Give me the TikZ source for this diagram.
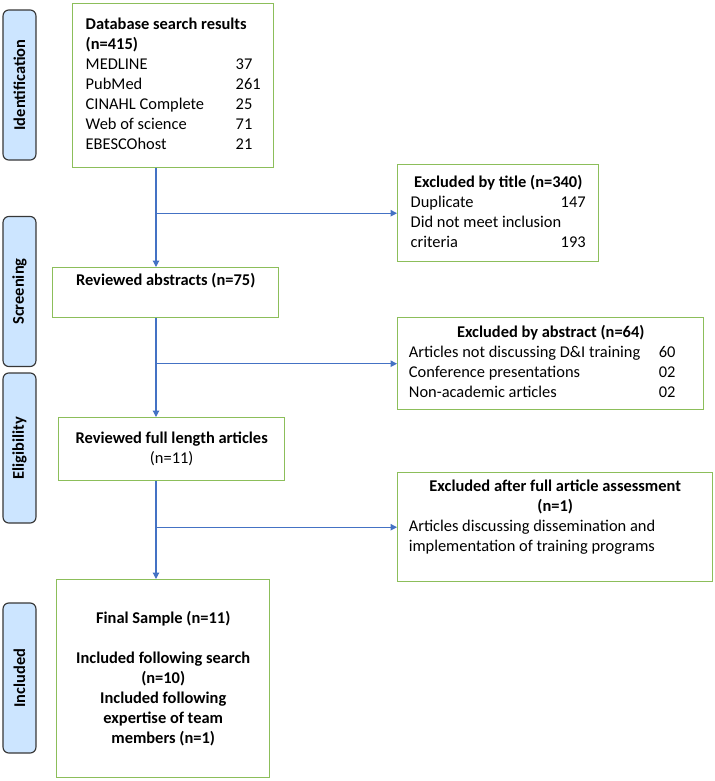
\documentclass[tikz,border=0pt]{standalone}
\usepackage{fontspec}
\setmainfont{Carlito}
\usepackage{array}
\usetikzlibrary{arrows.meta}
\usetikzlibrary{positioning}
\definecolor{boxgreen}{RGB}{140,190,90}
\definecolor{flowblue}{RGB}{68,114,196}
\definecolor{phasefill}{RGB}{204,229,255}
\definecolor{phaseline}{RGB}{55,55,55}
\newcommand{\flowfont}{\fontsize{11.5}{14}\selectfont}
\tikzset{
  stagebox/.style={draw=boxgreen, line width=1pt, inner sep=0pt, anchor=north west, align=center},
  phase/.style={draw=phaseline, fill=phasefill, line width=0.8pt, rounded corners=4pt,
    rotate=90, minimum width=105pt, minimum height=23pt, font=\flowfont\bfseries},
  flow/.style={draw=flowblue, line width=0.8pt, -{Triangle[length=4.5pt,width=4.5pt]}}
}

\begin{document}
\begin{tikzpicture}[x=0.7pt, y=-0.7pt, font=\flowfont]
      \useasboundingbox (0,0) rectangle (715,781);
      \node[phase] (ident) at (19.5,85) {Identification};
      \node[phase] (screen) at (19.5,291.5) {Screening};
      \node[phase] (elig) at (19.5,448) {Eligibility};
      \node[phase] (incl) at (19.5,678) {Included};
      \node[stagebox, minimum width=140.7pt, minimum height=114.8pt] (search) at (72,3)
        {\begin{tabular}{@{}p{105pt}@{}l@{}}
          \multicolumn{2}{@{}l@{}}{\bfseries Database search results}\\
          \multicolumn{2}{@{}l@{}}{\bfseries (n=415)}\\
          MEDLINE & 37\\
          PubMed & 261\\
          CINAHL Complete & 25\\
          Web of science & 71\\
          EBESCOhost & 21
        \end{tabular}};
      \node[stagebox, minimum width=140.7pt, minimum height=67.9pt] (bytitle) at (397,164)
        {\begin{tabular*}{122.5pt}{@{}l@{\extracolsep{\fill}}r@{}}
          \multicolumn{2}{@{}c@{}}{\bfseries Excluded by title (n=340)}\\
          Duplicate & 147\\
          \multicolumn{2}{@{}l@{}}{Did not meet inclusion}\\
          criteria & 193
        \end{tabular*}};
      \node[stagebox, minimum width=158.2pt, minimum height=35pt] (abstracts) at (52,267)
        {\textbf{Reviewed abstracts (n=75)}\\ \strut};
      \node[stagebox, minimum width=214.2pt, minimum height=64.4pt] (byabstract) at (397,317)
        {\begin{tabular}{@{}p{175pt}@{}l@{\hspace{11.9pt}}}
          \multicolumn{2}{@{}c@{}}{\bfseries Excluded by abstract (n=64)}\\
          Articles not discussing D\&I training & 60\\
          Conference presentations & 02\\
          Non-academic articles & 02
        \end{tabular}};
      \node[stagebox, minimum width=158.2pt, minimum height=44.1pt] (fulltext) at (58,417)
        {\textbf{Reviewed full length articles}\\ (n=11)};
      \node[stagebox, minimum width=220.5pt, minimum height=76.3pt] (byfull) at (397,472)
        {\begin{tabular}{@{}p{205pt}@{}}
          \multicolumn{1}{@{}c@{}}{\bfseries Excluded after full article assessment}\\
          \multicolumn{1}{@{}c@{}}{\bfseries (n=1)}\\
          Articles discussing dissemination and\\
          implementation of training programs\\
          {}
        \end{tabular}};
      \node[stagebox, minimum width=149.1pt, minimum height=138.6pt, font=\flowfont\bfseries] (final) at (56,579)
        {Final Sample (n=11)\\ \strut\\ Included following search\\ (n=10)\\ Included following\\
         expertise of team\\ members (n=1)};
      \coordinate (trunk) at (156,0);
      \draw[flow] (search.south -| trunk) -- (abstracts.north -| trunk);
      \draw[flow] (bytitle.west -| trunk) -- (bytitle.west);
      \draw[flow] (abstracts.south -| trunk) -- (fulltext.north -| trunk);
      \draw[flow] (byabstract.west -| trunk) -- (byabstract.west);
      \draw[flow] (fulltext.south -| trunk) -- (final.north -| trunk);
      \draw[flow] (byfull.west -| trunk) -- (byfull.west);
\end{tikzpicture}
\end{document}
